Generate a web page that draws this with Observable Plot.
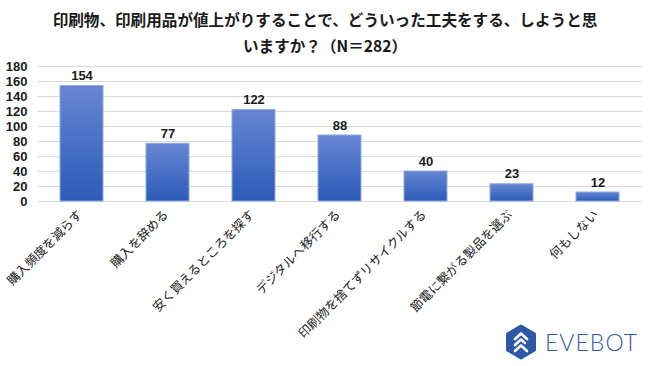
<!DOCTYPE html>
<html>
<head>
<meta charset="utf-8">
<script src="https://cdn.jsdelivr.net/npm/d3@7"></script>
<script src="https://cdn.jsdelivr.net/npm/@observablehq/plot@0.6"></script>
<style>
  html, body { margin: 0; padding: 0; background: #fff; }
  #wrap { position: relative; width: 650px; height: 366px; overflow: hidden; background: #fff; }
  #title {
    position: absolute; left: 0; top: 6px; width: 650px; text-align: center;
    font-family: "Noto Sans CJK JP", sans-serif; font-weight: bold; font-size: 15.6px;
    line-height: 26px; color: #1a1a1a;
  }
  #chart { position: absolute; left: 0; top: 58px; }
  #logo { position: absolute; left: 500px; top: 320px; }
</style>
</head>
<body>
<div id="wrap">
  <div id="title">印刷物、印刷用品が値上がりすることで、どういった工夫をする、しようと思<br>いますか？（N＝282）</div>
  <div id="chart"></div>
  <svg id="logo" width="150" height="46" viewBox="0 0 150 46">
    <path d="M21 6 L34.5 14 L34.5 30 L21 38 L7.5 30 L7.5 14 Z" fill="#2d58a5" stroke="#2d58a5" stroke-width="3" stroke-linejoin="round"/>
    <path d="M15 19 L21 13.5 L27 19" fill="none" stroke="#fff" stroke-width="2.6" stroke-linecap="round" stroke-linejoin="round"/>
    <path d="M15 25 L21 19.5 L25 23" fill="none" stroke="#fff" stroke-width="2.6" stroke-linecap="round" stroke-linejoin="round"/>
    <path d="M15 31 L21 25.5 L27 31" fill="none" stroke="#fff" stroke-width="2.6" stroke-linecap="round" stroke-linejoin="round"/>
    <text x="45" y="31" font-family="Lato, Roboto, sans-serif" font-weight="300" font-size="23" fill="#2f5aa8" textLength="92" lengthAdjust="spacing">EVEBOT</text>
  </svg>
</div>
<script>
const categories = ["購入頻度を減らす", "購入を辞める", "安く買えるところを探す", "デジタルへ移行する", "印刷物を捨てずリサイクルする", "節電に繋がる製品を選ぶ", "何もしない"];
const values = [154, 77, 122, 88, 40, 23, 12];
const yTicks = [0, 20, 40, 60, 80, 100, 120, 140, 160, 180];

const data = categories.map((c, i) => ({cat: c, value: values[i]}));

const chart = Plot.plot({
  width: 650,
  height: 308,
  marginTop: 8,
  marginBottom: 165,
  marginLeft: 37,
  marginRight: 8,
  style: {fontFamily: "'Liberation Sans', 'Noto Sans CJK JP', sans-serif", color: "#1a1a1a", background: "transparent"},
  x: {domain: categories, paddingInner: 0.5, paddingOuter: 0.25, axis: null},
  y: {domain: [0, 180], axis: null},
  marks: [
    Plot.gridY(yTicks, {stroke: "#d9d9d9", strokeOpacity: 1}),
    Plot.axisY(yTicks, {tickSize: 0, tickPadding: 10, fontSize: 13, fontWeight: "bold", label: null}),
    Plot.barY(data, {x: "cat", y: "value", fill: "url(#barGrad)", stroke: "#8eaae4", strokeWidth: 1}),
    Plot.text(data, {x: "cat", y: "value", text: d => String(d.value), dy: -10, fontSize: 13, fontWeight: "bold"}),
    Plot.text(data, {x: "cat", text: "cat", frameAnchor: "bottom", rotate: -45, textAnchor: "end", dy: 14, dx: 1, fontSize: 12.5})
  ]
});

const defs = d3.select(chart).insert("defs", ":first-child");
const grad = defs.append("linearGradient").attr("id", "barGrad").attr("x1", 0).attr("y1", 0).attr("x2", 0).attr("y2", 1);
grad.append("stop").attr("offset", "0%").attr("stop-color", "#6686d3");
grad.append("stop").attr("offset", "100%").attr("stop-color", "#2c5bb8");

document.getElementById("chart").appendChild(chart);
</script>
</body>
</html>
